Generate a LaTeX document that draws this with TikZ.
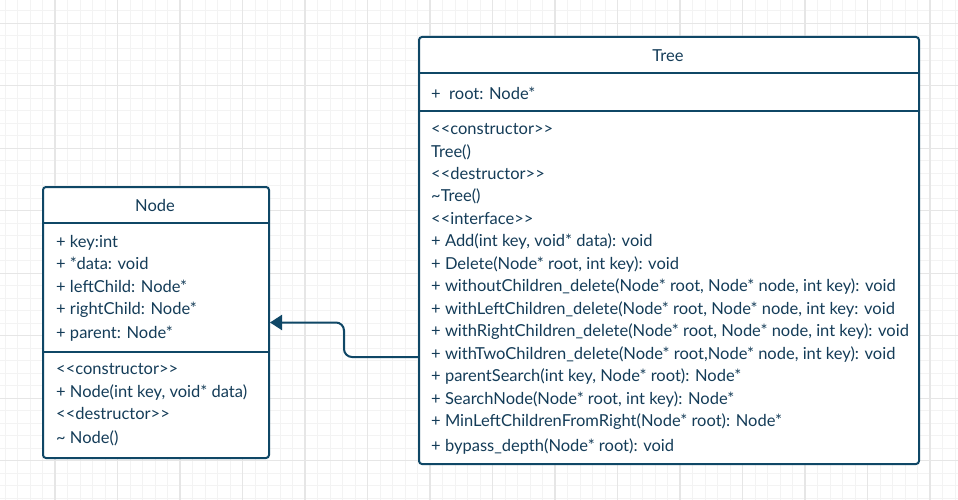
\documentclass[tikz,border=0pt]{standalone}
\usepackage{fontspec}
\setmainfont{Lato}
\usetikzlibrary{arrows.meta}
\definecolor{strokec}{HTML}{0F4766}
\definecolor{textc}{HTML}{143C58}
\definecolor{gridminor}{HTML}{F3F3F3}
\definecolor{gridmajor}{HTML}{E6E6E6}
\tikzset{
  umlbox/.style={draw=strokec, line width=2pt, fill=white, rounded corners=3pt, inner sep=0pt, anchor=north west},
  sepline/.style={draw=strokec, line width=2pt},
  txt/.style={anchor=west, inner sep=0pt, text height=11.9pt, text depth=0pt, text=textc, font=\fontsize{16.5}{19}\selectfont},
  title/.style={inner sep=0pt, text height=11.9pt, text depth=0pt, text=textc, font=\fontsize{16.5}{19}\selectfont},
  conn/.style={draw=strokec, line width=2pt, rounded corners=8pt, -{Triangle[length=12pt,width=15pt]}}
}
\begin{document}
\begin{tikzpicture}[x=1pt,y=-1pt]
\useasboundingbox (0,0) rectangle (958,500);
\fill[white] (0,0) rectangle (958,500);
% grid
\foreach \i in {0,...,77} {
  \draw[gridminor, line width=1pt] ({5+12.5*\i},0) -- ({5+12.5*\i},500);
}
\foreach \i in {0,...,39} {
  \draw[gridminor, line width=1pt] (0,{10.8+12.5*\i}) -- (958,{10.8+12.5*\i});
}
\foreach \i in {0,...,15} {
  \draw[gridmajor, line width=1.3pt] ({55+62.5*\i},0) -- ({55+62.5*\i},500);
}
\foreach \i in {0,...,7} {
  \draw[gridmajor, line width=1.3pt] (0,{23.3+62.5*\i}) -- (958,{23.3+62.5*\i});
}

% Node class
\node[umlbox, minimum width=226pt, minimum height=271pt] (nodebox) at (42,186) {};
\draw[sepline] (42,223) -- (268,223);
\draw[sepline] (42,352) -- (268,352);
\node[title] (ntitle) at (155,206) {Node};
\node[txt] (na1) at (56,241.5) {+ key:int};
\node[txt] (na2) at (56,264) {+ *data: void};
\node[txt] (na3) at (56,286.5) {+ leftChild: Node*};
\node[txt] (na4) at (56,309) {+ rightChild: Node*};
\node[txt] (na5) at (56,333) {+ parent: Node*};
\node[txt] (nm1) at (56,369) {<{}<constructor>{}>};
\node[txt] (nm2) at (56,391.5) {+ Node(int key, void* data)};
\node[txt] (nm3) at (56,414) {<{}<destructor>{}>};
\node[txt] (nm4) at (56,438) {\char`~\ Node()};

% Tree class
\node[umlbox, minimum width=500pt, minimum height=427pt] (treebox) at (418,36) {};
\draw[sepline] (418,73) -- (918,73);
\draw[sepline] (418,111) -- (918,111);
\node[title] (ttitle) at (668,56) {Tree};
\node[txt] (ta1) at (431,93.5) {+\ \ root: Node*};
\node[txt] (tm1) at (431,129) {<{}<constructor>{}>};
\node[txt] (tm2) at (431,151.5) {Tree()};
\node[txt] (tm3) at (431,174) {<{}<destructor>{}>};
\node[txt] (tm4) at (431,196) {\char`~Tree()};
\node[txt] (tm5) at (431,218.5) {<{}<interface>{}>};
\node[txt] (tm6) at (431,241) {+ Add(int key, void* data): void};
\node[txt] (tm7) at (431,263.5) {+ Delete(Node* root, int key): void};
\node[txt] (tm8) at (431,286) {+ withoutChildren\_delete(Node* root, Node* node, int key): void};
\node[txt] (tm9) at (431,308.5) {+ withLeftChildren\_delete(Node* root, Node* node, int key: void};
\node[txt] (tm10) at (431,331) {+ withRightChildren\_delete(Node* root, Node* node, int key): void};
\node[txt] (tm11) at (431,353.5) {+ withTwoChildren\_delete(Node* root,Node* node, int key): void};
\node[txt] (tm12) at (431,376) {+ parentSearch(int key, Node* root): Node*};
\node[txt] (tm13) at (431,398.5) {+ SearchNode(Node* root, int key): Node*};
\node[txt] (tm14) at (431,421) {+ MinLeftChildrenFromRight(Node* root): Node*};
\node[txt] (tm15) at (431,446) {+ bypass\_depth(Node* root): void};

% connector
\draw[conn] ([yshift=-106.5pt]treebox.west) -- ++(-74,0) |- (nodebox.east);
\end{tikzpicture}
\end{document}
